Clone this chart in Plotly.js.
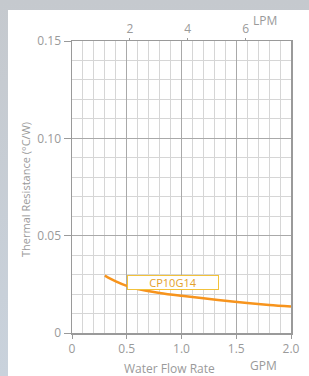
<!DOCTYPE html>
<html><head><meta charset="utf-8">
<script src="https://cdn.plot.ly/plotly-3.0.1.min.js"></script>
<style>
html,body{margin:0;padding:0;}
body{width:309px;height:376px;overflow:hidden;position:relative;background:linear-gradient(180deg,#c5c9ce 0%,#c9d2dc 100%);}
#panel{position:absolute;left:8px;top:10px;width:301px;height:366px;background:#fff;}
#chart{position:absolute;left:0;top:0;width:309px;height:376px;}
</style></head>
<body>
<div id="panel"></div>
<div id="chart"></div>
<script>
// Data
const flowGPM = [0.3, 0.4, 0.5, 0.6, 0.8, 1.0, 1.2, 1.4, 1.6, 1.8, 2.0];
const thermalRes = [0.0295, 0.0265, 0.0242, 0.0226, 0.0206, 0.0191, 0.0178, 0.0166, 0.0154, 0.0144, 0.0136];
const seriesName = 'CP10G14';
const gpmTicks = [0, 0.5, 1.0, 1.5, 2.0];
const gpmTickText = ['0', '0.5', '1.0', '1.5', '2.0'];
const lpmTicks = [2, 4, 6];
const resTicks = [0, 0.05, 0.10, 0.15];
const resTickText = ['0', '0.05', '0.10', '0.15'];
const GPM_TO_LPM = 3.785;

const txt = '#9a9a9a';
const fam = 'Open Sans, Noto Sans, sans-serif';
const font = {family: fam, size: 12, color: txt};
const fontS = {family: fam, size: 11, color: txt};

const traces = [
  {x: flowGPM, y: thermalRes, type: 'scatter', mode: 'lines', name: seriesName,
   line: {color: '#f7941d', width: 2.5, shape: 'spline'}, hoverinfo: 'skip'},
  {x: [0, 2 * GPM_TO_LPM], y: [null, null], xaxis: 'x2', type: 'scatter', mode: 'lines', showlegend: false}
];

const L = 72, R = 18, T = 41, B = 43, W = 309, H = 376;
const pw = W - L - R, ph = H - T - B;
function px2paperX(px){ return (px - L) / pw; }
function px2paperY(py){ return (H - B - py) / ph; }

const layout = {
  width: W, height: H,
  margin: {l: L, r: R, t: T, b: B},
  paper_bgcolor: 'rgba(0,0,0,0)', plot_bgcolor: '#ffffff',
  showlegend: false,
  font: font,
  xaxis: {
    range: [0, 2], tickvals: gpmTicks, ticktext: gpmTickText,
    showgrid: true, gridcolor: '#a9a9a9', gridwidth: 1,
    minor: {dtick: 0.1, showgrid: true, gridcolor: '#d6d6d6', gridwidth: 1, ticks: ''},
    showline: true, linecolor: '#9a9a9a', linewidth: 1.5, mirror: true,
    ticks: 'outside', ticklen: 4, tickcolor: '#9a9a9a',
    zeroline: false, tickfont: font, fixedrange: true
  },
  xaxis2: {
    overlaying: 'x', side: 'top', range: [0, 2 * GPM_TO_LPM], tickvals: lpmTicks,
    showgrid: false, ticks: 'outside', ticklen: 2, tickcolor: '#9a9a9a',
    zeroline: false, showline: false, tickfont: font, fixedrange: true
  },
  yaxis: {
    range: [0, 0.15], tickvals: resTicks, ticktext: resTickText,
    showgrid: true, gridcolor: '#a9a9a9', gridwidth: 1,
    minor: {dtick: 0.01, showgrid: true, gridcolor: '#d6d6d6', gridwidth: 1, ticks: ''},
    showline: true, linecolor: '#9a9a9a', linewidth: 1.5, mirror: true,
    ticks: 'outside', ticklen: 7, tickcolor: '#9a9a9a',
    zeroline: false, tickfont: font, fixedrange: true
  },
  annotations: [
    {x: 0.918, y: 0.0259, xref: 'x', yref: 'y', text: seriesName, showarrow: false,
     font: {family: fam, size: 11, color: '#e3a02a'},
     bgcolor: '#ffffff', bordercolor: '#f2c23c', borderwidth: 1, borderpad: 1,
     width: 88, height: 11},
    {x: px2paperX(169), y: px2paperY(368), xref: 'paper', yref: 'paper', text: 'Water Flow Rate',
     showarrow: false, font: font, xanchor: 'center', yanchor: 'middle'},
    {x: px2paperX(263), y: px2paperY(366), xref: 'paper', yref: 'paper', text: 'GPM',
     showarrow: false, font: font, xanchor: 'center', yanchor: 'middle'},
    {x: px2paperX(265), y: px2paperY(21), xref: 'paper', yref: 'paper', text: 'LPM',
     showarrow: false, font: font, xanchor: 'center', yanchor: 'middle'},
    {x: px2paperX(26), y: px2paperY(190), xref: 'paper', yref: 'paper', text: 'Thermal Resistance (°C/W)',
     textangle: -90, showarrow: false, font: fontS, xanchor: 'center', yanchor: 'middle'}
  ]
};

Plotly.newPlot('chart', traces, layout, {displayModeBar: false, staticPlot: true});
</script>
</body></html>
